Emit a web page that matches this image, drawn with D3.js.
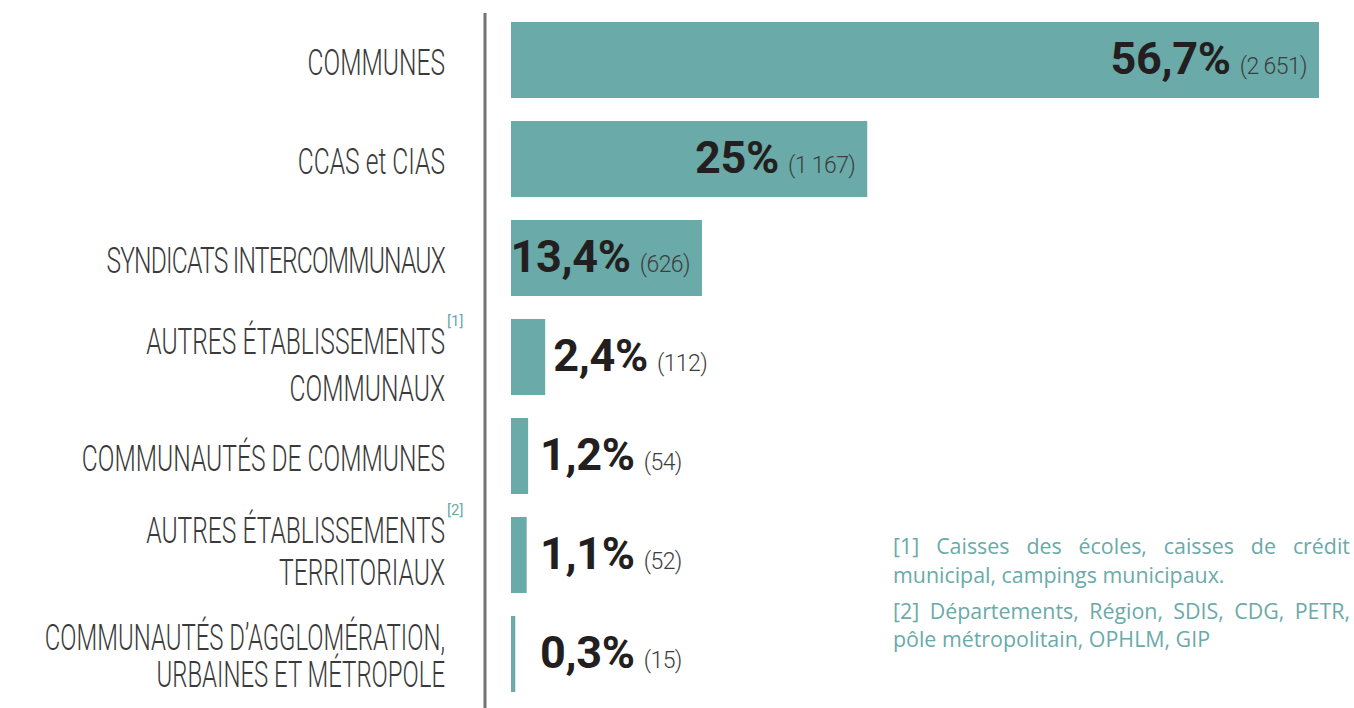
<!DOCTYPE html>
<html><head><meta charset="utf-8">
<script src="https://cdn.jsdelivr.net/npm/d3@7"></script>
<style>body{margin:0;background:#fff;overflow:hidden} svg{display:block}</style>
</head><body>
<svg id="chart" width="1354" height="708"></svg>
<script>
// ---- data ----
const categories = ["COMMUNES","CCAS et CIAS","SYNDICATS INTERCOMMUNAUX","AUTRES ÉTABLISSEMENTS COMMUNAUX","COMMUNAUTÉS DE COMMUNES","AUTRES ÉTABLISSEMENTS TERRITORIAUX","COMMUNAUTÉS D’AGGLOMÉRATION, URBAINES ET MÉTROPOLE"];
const labelLines = [["COMMUNES"],["CCAS et CIAS"],["SYNDICATS INTERCOMMUNAUX"],["AUTRES ÉTABLISSEMENTS","COMMUNAUX"],["COMMUNAUTÉS DE COMMUNES"],["AUTRES ÉTABLISSEMENTS","TERRITORIAUX"],["COMMUNAUTÉS D’AGGLOMÉRATION,","URBAINES ET MÉTROPOLE"]];
const noteRefs = ["","","","[1]","","[2]",""];
const percents = [56.7,25,13.4,2.4,1.2,1.1,0.3];
const counts = [2651,1167,626,112,54,52,15];
const footnotes = [["[1] Caisses des écoles, caisses de crédit","municipal, campings municipaux."],["[2] Départements, Région, SDIS, CDG, PETR,","pôle métropolitain, OPHLM, GIP"]];

// ---- style / layout ----
const TEAL = "#6aaaa9";
const DARK = "#231f20";
const LABEL = "#3a3a3a";
const W = 1354, H = 708;
const axisX = 485, barX0 = 511;
const labelRight = 445;
const labelScaleX = 0.665;
// per-row two-line label offsets (first baseline relative to band centre, line gap)
const twoLineLayout = {3:[-3,47], 5:[-12,42], 6:[-4,37]};

const fr = d3.formatLocale({decimal:",", thousands:" ", grouping:[3], currency:["","€"]});
const fmtPct = fr.format(".1~f");
const fmtCnt = fr.format(",d");

const svg = d3.select("#chart");

const y = d3.scaleBand().domain(categories).range([10.5, 703.5]).paddingInner(0.232).paddingOuter(0.116);
const x = d3.scaleLinear().domain([0, 60]).range([barX0, barX0 + 855]);

// vertical axis line
svg.append("line").attr("x1", axisX).attr("x2", axisX).attr("y1", 13).attr("y2", H)
  .attr("stroke", "#737373").attr("stroke-width", 3);

// bars
svg.selectAll("rect.bar").data(categories).join("rect").attr("class","bar")
  .attr("x", x(0)).attr("y", d => y(d))
  .attr("width", (d,i) => x(percents[i]) - x(0))
  .attr("height", y.bandwidth()).attr("fill", TEAL);

// category labels
categories.forEach((c, i) => {
  const cy = y(c) + y.bandwidth()/2;
  const lines = labelLines[i];
  let bases;
  if (lines.length === 1) bases = [cy + 15];
  else { const [o, g] = twoLineLayout[i]; bases = [cy + o, cy + o + g]; }
  lines.forEach((ln, j) => {
    svg.append("g").attr("transform", `translate(${labelRight},${bases[j]}) scale(${labelScaleX},1)`)
      .append("text").attr("text-anchor","end")
      .attr("font-family","Roboto, 'Open Sans', sans-serif").attr("font-weight",300)
      .attr("font-size", i===6 ? 36 : 37).attr("fill",LABEL)
      .attr("letter-spacing", i===2 ? -1.2 : 0)
      .text(ln);
  });
  if (noteRefs[i]) {
    svg.append("text").attr("x", labelRight + 2).attr("y", bases[0] - 28)
      .attr("font-family","Roboto, sans-serif").attr("font-weight",400)
      .attr("font-size",15).attr("fill",TEAL).text(noteRefs[i]);
  }
});

// value labels
categories.forEach((c, i) => {
  const cy = y(c) + y.bandwidth()/2;
  const end = x(percents[i]);
  const t = svg.append("text").attr("y", cy + 14)
    .attr("font-family","Roboto, sans-serif");
  t.append("tspan").attr("font-weight",700).attr("font-size",45).attr("fill",DARK)
    .attr("letter-spacing",-0.3).text(fmtPct(percents[i]) + "%");
  t.append("tspan").attr("dx",9).attr("font-weight",300).attr("font-size",23).attr("fill","#3d3d3d")
    .attr("letter-spacing",-0.6).text("(" + fmtCnt(counts[i]) + ")");
  const w = t.node().getComputedTextLength();
  if (end - x(0) > 150) t.attr("x", end - 21 - w);
  else t.attr("x", Math.max(end + 8, 540));
});

// footnotes (justified first line)
const fnX0 = 893, fnX1 = 1350, fnSize = 21.4;
const fnBases = [[554, 583], [619, 647]];
footnotes.forEach((fn, k) => {
  fn.forEach((ln, j) => {
    const base = fnBases[k][j];
    if (j === 0) {
      const words = ln.split(" ");
      const g = svg.append("g");
      const nodes = words.map(wd => g.append("text").attr("y", base)
        .attr("font-family","'Open Sans', sans-serif").attr("font-size",fnSize).attr("fill",TEAL).text(wd));
      const widths = nodes.map(n => n.node().getComputedTextLength());
      const total = d3.sum(widths);
      const gap = (fnX1 - fnX0 - total) / (words.length - 1);
      let cx = fnX0;
      nodes.forEach((n, m) => { n.attr("x", cx); cx += widths[m] + gap; });
    } else {
      svg.append("text").attr("x", fnX0).attr("y", base)
        .attr("font-family","'Open Sans', sans-serif").attr("font-size",fnSize).attr("fill",TEAL).text(ln);
    }
  });
});
</script>
</body></html>
